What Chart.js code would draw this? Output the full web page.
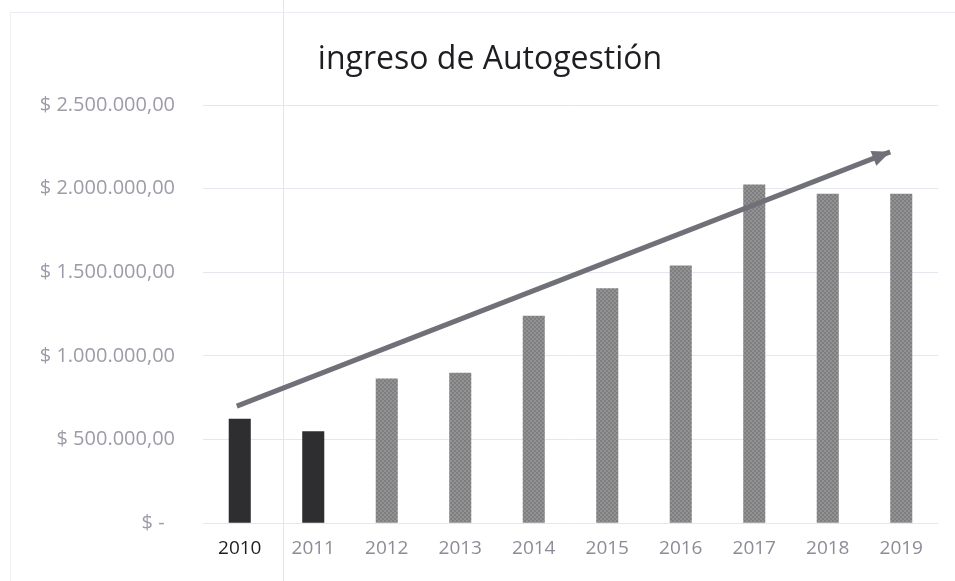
<!DOCTYPE html>
<html>
<head>
<meta charset="utf-8">
<script src="https://cdn.jsdelivr.net/npm/chart.js@4/dist/chart.umd.min.js"></script>
<style>
    html, body { margin: 0; padding: 0; background: #fff; }
    #wrap { position: relative; width: 955px; height: 581px; overflow: hidden; }
    /* faint fold line and page edges from the scan */
    .fold { position: absolute; left: 283px; top: 0; width: 1px; height: 581px; background: #e4e4ec; }
    .edgeL { position: absolute; left: 10px; top: 12px; width: 1px; height: 569px; background: #efeff4; }
    .edgeT { position: absolute; left: 10px; top: 12px; width: 945px; height: 1px; background: #ececf2; }
    #title {
        position: absolute; left: 0; top: 38px; width: 980px; text-align: center;
        font-family: 'Open Sans', sans-serif; font-size: 32px; line-height: 38px; color: #1e1e22;
    }
</style>
</head>
<body>
<div id="wrap">
    <div class="fold"></div>
    <div class="edgeL"></div>
    <div class="edgeT"></div>
    <canvas id="chart" width="955" height="581" style="position:absolute;left:0;top:0"></canvas>
    <div id="title">ingreso de Autogestión</div>
</div>
<script>
// Data
const years = ['2010', '2011', '2012', '2013', '2014', '2015', '2016', '2017', '2018', '2019'];
const ingresos = [625000, 550000, 865000, 900000, 1240000, 1405000, 1540000, 2025000, 1970000, 1970000];
const yTickLabels = ['$ -  ', '$ 500.000,00', '$ 1.000.000,00', '$ 1.500.000,00', '$ 2.000.000,00', '$ 2.500.000,00'];
// trend arrow, x in category index units
const trendX = [-0.04, 8.85];
const trendY = [700000, 2220000];

// dotted gray texture like the printed bars
function makePattern() {
    const c = document.createElement('canvas');
    c.width = 4; c.height = 4;
    const g = c.getContext('2d');
    g.fillStyle = '#929292';
    g.fillRect(0, 0, 4, 4);
    g.fillStyle = '#7e7e80';
    g.fillRect(0, 0, 2, 2);
    g.fillRect(2, 2, 2, 2);
    return g.createPattern(c, 'repeat');
}
const grayFill = makePattern();
const barColors = ingresos.map((v, i) => i < 2 ? '#2e2e30' : grayFill);

const arrowHead = {
    id: 'arrowHead',
    afterDatasetsDraw(chart) {
        const meta = chart.getDatasetMeta(1);
        const pts = meta.data;
        if (pts.length < 2) return;
        const a = pts[pts.length - 2], b = pts[pts.length - 1];
        const ang = Math.atan2(b.y - a.y, b.x - a.x);
        const ctx = chart.ctx;
        const len = 18, w = 8;
        ctx.save();
        ctx.fillStyle = '#707078';
        ctx.beginPath();
        ctx.moveTo(b.x, b.y);
        ctx.lineTo(b.x - len * Math.cos(ang) + w * Math.sin(ang), b.y - len * Math.sin(ang) - w * Math.cos(ang));
        ctx.lineTo(b.x - len * Math.cos(ang) - w * Math.sin(ang), b.y - len * Math.sin(ang) + w * Math.cos(ang));
        ctx.closePath();
        ctx.fill();
        ctx.restore();
    }
};

new Chart(document.getElementById('chart'), {
    type: 'bar',
    data: {
        labels: years,
        datasets: [{
            label: 'Ingreso de Autogestión',
            data: ingresos,
            backgroundColor: barColors,
            grouped: false,
            barPercentage: 0.6,
            categoryPercentage: 0.5,
            order: 1
        }, {
            type: 'line',
            label: 'Tendencia',
            data: trendX.map((x, i) => ({ x: x, y: trendY[i] })),
            xAxisID: 'x2',
            borderColor: '#707078',
            borderWidth: 5,
            pointRadius: 0,
            fill: false,
            order: 0
        }]
    },
    options: {
        responsive: false,
        animation: false,
        layout: { padding: { left: 0, right: 17, top: 105, bottom: 7 } },
        plugins: {
            legend: { display: false },
            tooltip: { enabled: false },
            title: { display: false }
        },
        scales: {
            x: {
                grid: { display: false, drawTicks: false },
                border: { display: false },
                ticks: {
                    padding: 14,
                    font: { family: 'Open Sans', size: 19 },
                    color: (ctx) => ctx.index === 0 ? '#1e1e22' : '#8c8c98'
                }
            },
            x2: {
                type: 'linear',
                display: false,
                offset: false,
                min: -0.5,
                max: 9.5
            },
            y: {
                min: 0,
                max: 2500000,
                afterFit: (scale) => { scale.width = 203; },
                grid: { color: '#e6e6ee', drawTicks: false },
                border: { display: false },
                ticks: {
                    stepSize: 500000,
                    padding: 28,
                    font: { family: 'Open Sans', size: 20 },
                    color: '#9c9ca8',
                    callback: (v) => yTickLabels[Math.round(v / 500000)]
                }
            }
        }
    },
    plugins: [arrowHead]
});
</script>
</body>
</html>
